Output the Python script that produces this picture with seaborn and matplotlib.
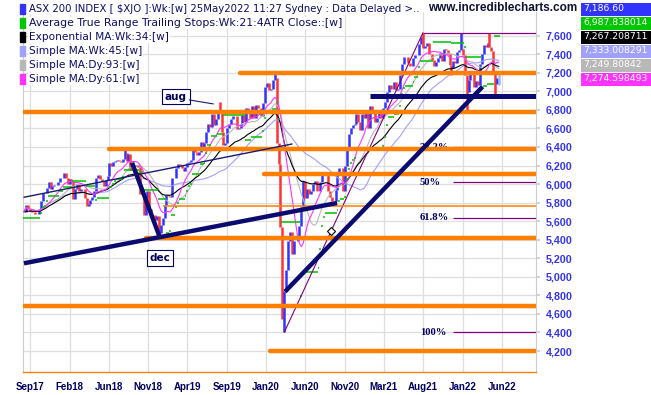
import numpy as np
import pandas as pd
import matplotlib.pyplot as plt
from matplotlib.patches import Rectangle
import seaborn as sns

sns.set_theme(style="whitegrid")

# weekly closes of ASX 200, week of 7 Aug 2017 .. week of 23 May 2022
first_open = 5720
closes = [
    # 2017
    5702, 5779, 5733, 5714, 5700, 5696, 5681, 5682, 5729, 5818, 5907, 5904, 5961,
    6021, 5944, 5983, 5990, 5989, 6019, 6069, 6065,
    # 2018
    6122, 6070, 6005, 6050, 6037, 5838, 5945, 6005, 5928, 5952, 5950, 5845, 5759,
    5788, 5832, 5863, 5922, 6070, 6095, 6059, 6033, 5984, 6044, 6084, 6225, 6195,
    6233, 6245, 6256, 6244, 6242, 6267, 6340, 6248, 6319, 6155, 6170, 6197, 6207,
    6186, 5896, 5907, 5664, 5850, 5929, 5734, 5667, 5667, 5614, 5661, 5468, 5558, 5637,
    # 2019
    5772, 5880, 5867, 5864, 6063, 6066, 6168, 6217, 6204, 6175, 6136, 6181, 6223,
    6241, 6257, 6389, 6347, 6309, 6342, 6457, 6395, 6443, 6556, 6652, 6618, 6751,
    6642, 6699, 6794, 6780, 6566, 6418, 6448, 6604, 6647, 6698, 6730, 6730, 6598,
    6607, 6650, 6741, 6669, 6816, 6794, 6715, 6846, 6710, 6851, 6816, 6821, 6733,
    # 2020
    6874, 7042, 7090, 7017, 7022, 7124, 7139, 6441, 6216, 5539, 4817, 4842, 5070,
    5387, 5488, 5245, 5391, 5391, 5405, 5550, 5755, 6036, 5847, 5942, 5897, 5920,
    6000, 6034, 5927, 5928, 6022, 6098, 6111, 6112, 5925, 5859, 5813, 5815, 5941,
    6102, 6176, 6168, 5927, 6190, 6405, 6539, 6601, 6634, 6643, 6757, 6664, 6587,
    # 2021
    6758, 6715, 6800, 6607, 6841, 6801, 6793, 6673, 6711, 6767, 6708, 6824, 6885,
    6995, 7063, 7025, 7025, 7100, 7014, 7030, 7179, 7296, 7369, 7370, 7308, 7273,
    7272, 7360, 7394, 7392, 7511, 7582, 7463, 7488, 7522, 7406, 7403, 7342, 7278,
    7320, 7362, 7415, 7324, 7457, 7443, 7397, 7279, 7247, 7328, 7305, 7420, 7444,
    # 2022
    7453, 7393, 7174, 6988, 7120, 7217, 7221, 7049, 7111, 7063, 7296, 7406, 7499,
    7478, 7523, 7473, 7435, 7205, 7075, 7146, 7186,
]
# intraweek extremes that stick out of the bodies (bar number: price)
wick_highs = {53: 6374, 103: 6890, 132: 7197, 210: 7632, 230: 7625, 245: 7630}
wick_lows = {71: 5410, 136: 4546, 137: 4402, 225: 7180, 233: 6765, 248: 6940, 250: 7070}

x_labels = ["Sep17", "Feb18", "Jun18", "Nov18", "Apr19", "Sep19", "Jan20",
            "Jun20", "Nov20", "Mar21", "Aug21", "Jan22", "Jun22"]

legend_names = ["ASX 200 INDEX [ \\$XJO ]:Wk:[w] 25May2022 11:27 Sydney : Data Delayed >..",
                "Average True Range Trailing Stops:Wk:21:4ATR Close::[w]",
                "Exponential MA:Wk:34:[w]",
                "Simple MA:Wk:45:[w]",
                "Simple MA:Dy:93:[w]",
                "Simple MA:Dy:61:[w]"]
legend_colors = ["#3333ff", "#00c800", "#000000", "#a0a0ff", "#b8b8b8", "#ff33ff"]
last_values = ["7,186.60", "6,987.838014", "7,267.208711", "7,333.008291",
               "7,249.80842", "7,274.598493"]

# support / resistance lines: price, first bar, thick?
orange_levels = [7200, 6775, 6382, 6106, 5761, 5422, 4682, 4200]
orange_from = [113.7, -0.5, 44.8, 126.3, 73.2, 64.1, -0.5, 129.5]
orange_thick = [True, True, True, True, False, True, True, True]

# trend lines ((bar, price), (bar, price))
thick_trends = [((0, 5146), (164.8, 5796)),
                ((137.4, 4840), (241.4, 7050)),
                ((56.9, 6230), (71.6, 5420))]
flat_trend = (182.1, 6953)
thin_trends = [((0, 5858), (141.1, 6432))]

fib_ratios = [0.382, 0.5, 0.618, 1.0]
fib_labels = ["38.2%", "50%", "61.8%", "100%"]

# ---- derived series ----
df = pd.DataFrame({"close": closes})
df["bar"] = np.arange(len(df))
df["open"] = df["close"].shift(1).fillna(first_open)
df["high"] = df[["open", "close"]].max(axis=1)
df["low"] = df[["open", "close"]].min(axis=1)
for i, v in wick_highs.items():
    df.loc[i, "high"] = max(v, df.loc[i, "high"])
for i, v in wick_lows.items():
    df.loc[i, "low"] = min(v, df.loc[i, "low"])

df["ema34"] = df["close"].ewm(span=34, adjust=False).mean()
df["sma45"] = df["close"].rolling(45, min_periods=1).mean()
df["sma93d"] = df["close"].rolling(19, min_periods=1).mean()
df["sma61d"] = df["close"].rolling(12, min_periods=1).mean()

prev = df["close"].shift(1).fillna(first_open)
tr = pd.concat([df["high"] - df["low"], (df["high"] - prev).abs(),
                (df["low"] - prev).abs()], axis=1).max(axis=1)
atr = tr.rolling(21, min_periods=1).mean()
stops = []
trend = 1
stop = df["close"][0] - 4 * atr[0]
for c, a in zip(df["close"], atr):
    if trend == 1:
        stop = max(stop, c - 4 * a)
        if c < stop:
            trend, stop = -1, c + 4 * a
    else:
        stop = min(stop, c + 4 * a)
        if c > stop:
            trend, stop = 1, c - 4 * a
    stops.append(stop)
df["stop"] = stops

# ---- figure ----
W, H = 651, 395
fig = plt.figure(figsize=(W / 100, H / 100), dpi=100)
fig.patch.set_facecolor("white")

def fx(px):
    return px / W

def fy(py):
    return 1 - py / H

ax = fig.add_axes([fx(23), fy(372), (536 - 23) / W, (372 - 12) / H])
ax.set_facecolor("white")
XMAX = 269.5
ax.set_xlim(-0.5, XMAX)
ax.set_ylim(3974, 7855)

ax.grid(True, color="#dedede", lw=0.9)
ax.set_axisbelow(True)
tick_pos = 3.34 + 20.68 * np.arange(len(x_labels))
ax.set_xticks(tick_pos)
ax.set_xticklabels(x_labels, fontsize=7, fontweight="bold", color="#000060",
                   family="Liberation Sans")
ax.yaxis.tick_right()
ax.set_yticks(range(4200, 7601, 200))
ax.set_yticklabels([f"{v:,}" for v in range(4200, 7601, 200)], fontsize=7.7,
                   fontweight="bold", color="#3535e6", family="Liberation Sans")
ax.tick_params(axis="x", length=3, color="#cccccc", pad=4)
ax.tick_params(axis="y", length=3, color="#cccccc", pad=4)
for s in ["left", "right"]:
    ax.spines[s].set_color("#cccccc")
    ax.spines[s].set_linewidth(0.8)
ax.spines["top"].set_visible(False)
ax.spines["bottom"].set_color("#ff8000")
ax.spines["bottom"].set_linewidth(1.0)

# candles
colors = np.where(df["close"] >= df["open"], "#3333ff", "#ff3333").astype(object)
colors[-1] = "#99bbff"
ax.vlines(df["bar"], df["low"], df["high"], colors=list(colors), lw=1.8, zorder=2)

# moving averages
sns.lineplot(data=df, x="bar", y="sma45", color="#a0a0ff", lw=0.8, ax=ax, zorder=3)
sns.lineplot(data=df, x="bar", y="sma93d", color="#b8b8b8", lw=0.8, ax=ax, zorder=3)
sns.lineplot(data=df, x="bar", y="ema34", color="#000000", lw=0.8, ax=ax, zorder=3)
sns.lineplot(data=df, x="bar", y="sma61d", color="#ff33ff", lw=0.8, ax=ax, zorder=3)
ax.set_xlabel("")
ax.set_ylabel("")

# ATR trailing stop steps
ax.hlines(df["stop"], df["bar"] - 0.5, df["bar"] + 0.5, color="#00c000", lw=1.1, zorder=3)

# fibonacci retracement from the crash low to the high
lo_bar = int(df["low"].idxmin())
hi_bar = int(df["high"].idxmax())
fib_lo = df["low"].min()
fib_hi = df["high"].max()
ax.plot([lo_bar, hi_bar], [fib_lo, fib_hi], color="#800080", lw=0.8, zorder=4)
ax.hlines(fib_hi, hi_bar, XMAX, color="#800080", lw=0.9, zorder=4)
for r, lab in zip(fib_ratios, fib_labels):
    lvl = fib_hi - r * (fib_hi - fib_lo)
    ax.hlines(lvl, 225.8, XMAX, color="#800080", lw=0.9, zorder=3)
    ax.text(208.4, lvl, lab, ha="left", va="center", fontsize=7.7, fontweight="bold",
            family="Liberation Serif", color="#000060", zorder=3)
d_bar = 161.6
d_price = fib_lo + (d_bar - lo_bar) / (hi_bar - lo_bar) * (fib_hi - fib_lo)
ax.plot([d_bar], [d_price], marker="D", ms=4.5, mfc="white", mec="black", mew=0.8,
        zorder=6)

# orange support / resistance
for lvl, start, thick in zip(orange_levels, orange_from, orange_thick):
    ax.hlines(lvl, start, XMAX, color="#ff8000", lw=3.2 if thick else 1.1, zorder=4,
              capstyle="round" if thick else "butt")

# navy trend lines
for (x0, y0), (x1, y1) in thick_trends:
    ax.plot([x0, x1], [y0, y1], color="#0a0a70", lw=3.2, zorder=5,
            solid_capstyle="butt")
ax.hlines(flat_trend[1], flat_trend[0], XMAX, color="#0a0a70", lw=3.6, zorder=5)
for (x0, y0), (x1, y1) in thin_trends:
    ax.plot([x0, x1], [y0, y1], color="#1a1a70", lw=1.0, zorder=5)

# callouts
box = dict(boxstyle="square,pad=0.25", fc="white", ec="#000060", lw=0.8)
ax.text(80, 6944, "aug", ha="center", va="center", fontsize=7.5, fontweight="bold",
        color="#000060", bbox=box, zorder=7)
ax.plot([87.0, 99.7], [6907, 6864], color="#1a1a70", lw=0.8, zorder=7)
ax.text(71.6, 5203, "dec", ha="center", va="center", fontsize=7.5, fontweight="bold",
        color="#000060", bbox=box, zorder=7)

# legend rows (top left)
row_y = [9, 23, 37, 51, 65, 79]
row_size = [7.3, 7.8, 7.6, 7.6, 7.6, 7.6]
for yc, name, col, fs in zip(row_y, legend_names, legend_colors, row_size):
    fig.patches.append(Rectangle((fx(19.5), fy(yc + 5)), 5.5 / W, 10 / H,
                                 transform=fig.transFigure, fc=col, ec=col, zorder=10))
    fig.text(fx(29), fy(yc), name, ha="left", va="center", fontsize=fs,
             color="#0c0c66", zorder=11,
             bbox=dict(fc="white", ec="none", pad=0.6))

# last value boxes (top right)
for yc, val, col in zip(row_y, last_values, legend_colors):
    fig.patches.append(Rectangle((fx(581), fy(yc + 6.5)), 70 / W, 13 / H,
                                 transform=fig.transFigure, fc=col, ec="none", zorder=10))
    fig.text(fx(583.5), fy(yc), val, ha="left", va="center", fontsize=6.7,
             color="white", zorder=11)

fig.text(fx(577), fy(8), "www.incrediblecharts.com", ha="right", va="center",
         fontsize=8.5, fontweight="bold", family="Liberation Sans", color="#111133",
         zorder=11)

fig.savefig("out.png", dpi=100)
